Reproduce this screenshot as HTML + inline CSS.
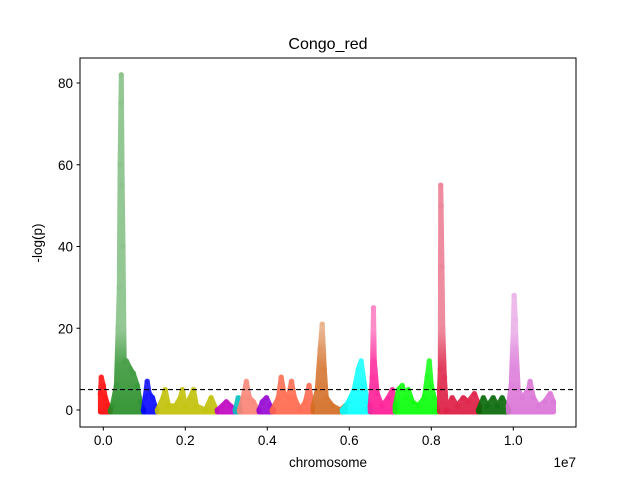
<!DOCTYPE html>
<html><head><meta charset="utf-8">
<style>
html,body{margin:0;padding:0;background:#fff;}
svg{display:block;font-family:"Liberation Sans","DejaVu Sans",sans-serif;}
</style></head>
<body>
<svg id="chart" width="640" height="480" viewBox="0 0 640 480" xmlns="http://www.w3.org/2000/svg">
<defs>
<linearGradient id="fadeGrad" gradientUnits="userSpaceOnUse" x1="0" y1="415" x2="0" y2="330">
<stop offset="0" stop-color="#fff"/>
<stop offset="0.6" stop-color="#e0e0e0"/>
<stop offset="1" stop-color="#8a8a8a"/>
</linearGradient>
<mask id="fadeMask" maskUnits="userSpaceOnUse" x="0" y="0" width="640" height="480">
<rect x="0" y="0" width="640" height="480" fill="url(#fadeGrad)"/>
</mask>
</defs>
<rect x="0" y="0" width="640" height="480" fill="#fff"/>
<g id="marks" mask="url(#fadeMask)"></g>
<line id="thresh" x1="80" x2="576" stroke="#000" stroke-width="1.2" stroke-dasharray="5,3"/>
<rect x="80" y="58" width="496" height="369" fill="none" stroke="#000" stroke-width="1"/>
<g id="xticks"></g>
<g id="yticks"></g>
<text x="328" y="49" font-size="16" text-anchor="middle">Congo_red</text>
<text x="328" y="467" font-size="13.5" text-anchor="middle">chromosome</text>
<text x="576" y="467" font-size="13.5" text-anchor="end">1e7</text>
<text x="0" y="0" font-size="13.5" text-anchor="middle" transform="translate(42,243) rotate(-90)">-log(p)</text>
</svg>
<script>
// positions in Mb (1e6), values are -log(p)
const chromColors = ["#ff0000","#228b22","#0000ff","#bfbf00","#bf00bf","#00bfbf","#fa8072","#9400d3","#ff6347","#d2691e","#00ffff","#ff1493","#00ff00","#dc143c","#006400","#da70d6"];
const chromPos = [
 [-0.07,-0.05,0,0.05,0.12,0.17],
 [0.17,0.22,0.32,0.36,0.39,0.41,0.43,0.44,0.46,0.48,0.51,0.56,0.66,0.73,0.83,0.9,0.98],
 [0.98,1.02,1.07,1.12,1.2,1.29],
 [1.32,1.46,1.51,1.59,1.76,1.88,1.93,2.0,2.12,2.2,2.27,2.49,2.63,2.76],
 [2.78,2.9,3.0,3.1,3.24],
 [3.22,3.29,3.34],
 [3.32,3.41,3.49,3.56,3.66,3.76],
 [3.8,3.88,3.98,4.07,4.15],
 [4.12,4.27,4.34,4.41,4.51,4.59,4.66,4.8,4.93,5.02,5.1],
 [5.12,5.22,5.29,5.34,5.39,5.44,5.59,5.78,5.9],
 [5.83,5.98,6.12,6.22,6.29,6.37,6.44,6.51],
 [6.51,6.56,6.59,6.61,6.68,6.8,6.95,7.05,7.12],
 [7.12,7.2,7.29,7.37,7.44,7.54,7.68,7.83,7.9,7.95,8.0,8.07,8.15],
 [8.2,8.22,8.23,8.24,8.26,8.28,8.32,8.37,8.51,8.63,8.78,8.9,9.05,9.17],
 [9.15,9.27,9.37,9.51,9.61,9.73,9.88],
 [9.88,9.95,10.0,10.02,10.05,10.07,10.12,10.22,10.37,10.41,10.49,10.61,10.76,10.9,10.98]
];
const chromVals = [
 [4,8,6,3,1,0],
 [0,1,6,20,30,60,75,82,55,40,12,12,10,9,6,2,0],
 [0,3,7,4,3,0],
 [0,3,5,1,1,3,5,1,3,5,1,0,3,0],
 [0,1,2,1,0],
 [0,3,0],
 [0,3,7,3,2,0],
 [0,2,3,1,0],
 [0,3,8,4,3,7,3,0,2,6,0],
 [1,5,15,21,10,3,1,0,1],
 [0,2,5,10,12,6,2,0],
 [1,8,25,12,4,1,3,5,0],
 [1,5,6,3,5,2,1,3,8,12,6,3,0],
 [5,10,55,50,35,20,8,0,3,1,3,2,4,1],
 [0,3,1,3,1,3,0],
 [1,6,20,28,22,15,5,3,5,7,3,1,2,4,2]
];
const xTickVals = [0,0.2,0.4,0.6,0.8,1.0];
const xTickLabels = ["0.0","0.2","0.4","0.6","0.8","1.0"];
const yTickVals = [0,20,40,60,80];
const threshold = 5;

const NS = "http://www.w3.org/2000/svg";
function xScale(mb){ return 103.3 + mb/10*410; }
function xScaleE7(v){ return 103.3 + v*410; }
function yScale(v){ return 410 - v*4.0875; }

const marks = document.getElementById('marks');
chromPos.forEach((pos, ci) => {
  const vals = chromVals[ci];
  const col = chromColors[ci];
  const g = document.createElementNS(NS,'g');
  
  
  const pts = pos.map((p,i)=>xScale(p).toFixed(1)+','+yScale(vals[i]).toFixed(1));
  const area = document.createElementNS(NS,'polygon');
  
  
  area.setAttribute('points', xScale(pos[0]).toFixed(1)+','+(yScale(0)+2)+' '+pts.join(' ')+' '+xScale(pos[pos.length-1]).toFixed(1)+','+(yScale(0)+2));
  area.setAttribute('fill', col);
  area.setAttribute('stroke', col);
  area.setAttribute('stroke-width', '5');
  area.setAttribute('stroke-linejoin','round');
  area.setAttribute('opacity', '0.9');
  g.appendChild(area);
  pos.forEach((p,i)=>{
    const c = document.createElementNS(NS,'circle');
    
    
    c.setAttribute('cx', xScale(p));
    c.setAttribute('cy', yScale(vals[i]));
    c.setAttribute('r', 3);
    c.setAttribute('fill', col);
    c.setAttribute('fill-opacity', 0.35);
    g.appendChild(c);
  });
  marks.appendChild(g);
});

const th = document.getElementById('thresh');
th.setAttribute('y1', yScale(threshold));
th.setAttribute('y2', yScale(threshold));

const xt = document.getElementById('xticks');
xTickVals.forEach((v,i)=>{
  const x = xScaleE7(v);
  const l = document.createElementNS(NS,'line');
  
  
  l.setAttribute('x1',x); l.setAttribute('x2',x);
  l.setAttribute('y1',427); l.setAttribute('y2',430.5);
  l.setAttribute('stroke','#000');
  xt.appendChild(l);
  const t = document.createElementNS(NS,'text');
  
  
  t.setAttribute('x',x); t.setAttribute('y',445);
  t.setAttribute('font-size','13.5');
  t.setAttribute('text-anchor','middle');
  t.textContent = xTickLabels[i];
  xt.appendChild(t);
});
const yt = document.getElementById('yticks');
yTickVals.forEach(v=>{
  const y = yScale(v);
  const l = document.createElementNS(NS,'line');
  
  
  l.setAttribute('x1',76.5); l.setAttribute('x2',80);
  l.setAttribute('y1',y); l.setAttribute('y2',y);
  l.setAttribute('stroke','#000');
  yt.appendChild(l);
  const t = document.createElementNS(NS,'text');
  
  
  t.setAttribute('x',73); t.setAttribute('y',y+5);
  t.setAttribute('font-size','13.5');
  t.setAttribute('text-anchor','end');
  t.textContent = String(v);
  yt.appendChild(t);
});
</script>
</body></html>
